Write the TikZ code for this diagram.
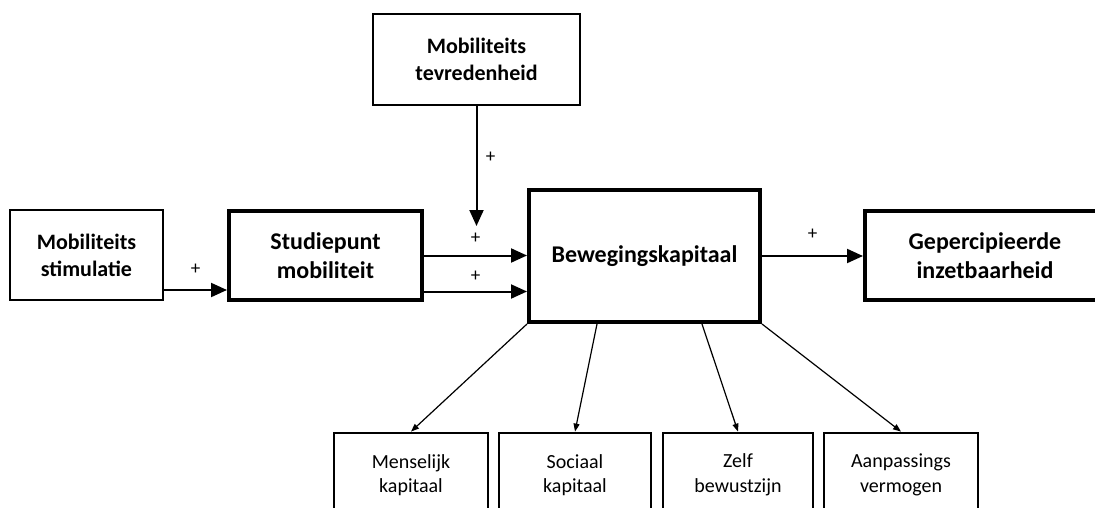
\documentclass[tikz,border=0pt]{standalone}
\usepackage{fontspec}
\setmainfont{Carlito}
\usetikzlibrary{arrows.meta, positioning}

\begin{document}
\begin{tikzpicture}[
    x=1pt, y=-1pt,
    box/.style={rectangle, draw, line width=2pt, minimum width=153pt,
                minimum height=90pt, align=center, inner sep=0pt,
                font=\fontsize{22}{27}\selectfont\bfseries},
    mainbox/.style={box, line width=4pt, font=\fontsize{24}{29}\selectfont\bfseries},
    subbox/.style={rectangle, draw, line width=2.8pt, minimum width=153pt,
                minimum height=84pt, align=center, inner sep=0pt,
                font=\fontsize{20}{24.5}\selectfont},
    arrow/.style={-{Triangle[length=16pt, width=14pt]}, line width=2pt},
    thinarrow/.style={-{Triangle[length=8pt, width=6pt]}, line width=1.2pt},
    plus/.style={font=\fontsize{19}{19}\selectfont, inner sep=0pt}
]

\useasboundingbox (0,0) rectangle (1095,508);
\fill[white] (0,0) rectangle (1095,508);
\clip (0,0) rectangle (1095,508);

\node[box] (stim) at (86.5,255) {Mobiliteits\\stimulatie};

\node[mainbox, minimum width=193pt, minimum height=89pt] (stud) at (325.5,255.5) {Studiepunt\\mobiliteit};

\node[box, minimum width=207pt, minimum height=91pt] (tev) at (476.5,59.5) {Mobiliteits\\tevredenheid};

\node[mainbox, minimum width=231pt, minimum height=132pt] (beweg) at (644.5,256) {Bewegingskapitaal};

\node[mainbox, minimum width=240pt, minimum height=89pt] (gep) at (985,255.5) {Gepercipieerde\\inzetbaarheid};

% Dimensions of Bewegingskapitaal
\node[subbox, minimum width=154pt] (mens) at (411,475) {Menselijk\\kapitaal};
\node[subbox, minimum width=152pt] (soc) at (575,475) {Sociaal\\kapitaal};
\node[subbox, minimum width=150pt] (zelf) at (738,475) {Zelf\\bewustzijn};
\node[subbox, minimum width=154pt] (aanp) at (901,475) {Aanpassings\\vermogen};

% Arrows
\coordinate (s0) at ([yshift=-35pt]stim.east);
\coordinate (s1) at (stud.east);
\coordinate (s2) at ([yshift=-36pt]stud.east);
\coordinate (tevend) at ([yshift=-120pt]tev.south);

\draw[arrow] (s0) -- node[plus, yshift=21pt] {+} (s0 -| stud.west);
\draw[arrow] (s1) -- node[plus, yshift=17pt] {+} (s1 -| beweg.west);
\draw[arrow] (s2) -- node[plus, yshift=15pt] {+} (s2 -| beweg.west);
\draw[arrow] (tev.south) -- node[plus, pos=0.43, xshift=14pt] {+} (tevend);
\draw[arrow] (beweg.east) -- node[plus, yshift=22pt] {+} (beweg.east -| gep.west);

\draw[thinarrow] (beweg.south west) -- (mens.north);
\draw[thinarrow] ([xshift=70pt]beweg.south west) -- (soc.north);
\draw[thinarrow] ([xshift=-60pt]beweg.south east) -- (zelf.north);
\draw[thinarrow] (beweg.south east) -- (aanp.north);

\end{tikzpicture}
\end{document}
